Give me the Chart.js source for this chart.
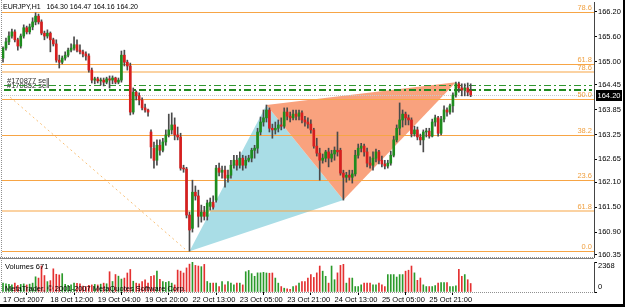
<!DOCTYPE html>
<html>
<head>
<meta charset="utf-8">
<script src="https://cdn.jsdelivr.net/npm/chart.js@4.4.0/dist/chart.umd.min.js"></script>
<style>
  html, body { margin: 0; padding: 0; background: #000; }
  #wrap { position: relative; width: 623px; height: 304px; background: #fff; overflow: hidden; }
  #main { position: absolute; left: 0; top: 0; }
  #vol { position: absolute; left: 0; top: 258px; }
</style>
</head>
<body>
<div id="wrap">
  <canvas id="main" width="623" height="258"></canvas>
  <canvas id="vol" width="623" height="46"></canvas>
</div>
<script>
// EURJPY H1 candles
const symbol = 'EURJPY,H1';
const opens = [165.09,165.33,165.48,165.62,165.72,165.53,165.38,165.62,165.82,165.72,
  165.84,165.96,166.10,165.96,165.69,165.62,165.69,165.53,165.43,165.04,
  164.99,165.09,165.16,165.28,165.33,165.41,165.28,165.24,165.19,165.14,
  164.80,164.56,164.59,164.54,164.56,164.51,164.59,164.56,164.61,164.51,
  164.56,165.16,164.99,164.90,163.79,164.27,164.18,164.08,163.89,163.84,
  163.31,162.92,162.63,162.99,162.87,163.07,163.24,163.36,163.48,163.24,
  163.19,162.44,162.42,161.31,160.99,161.86,161.77,161.28,161.38,161.28,
  161.52,161.62,161.67,162.44,162.34,162.39,162.20,162.27,162.51,162.63,
  162.51,162.68,162.51,162.63,162.68,162.87,162.92,163.31,163.55,163.65,
  163.84,163.40,163.36,163.40,163.48,163.45,163.79,163.69,163.65,163.74,
  163.69,163.77,163.60,163.55,163.50,163.36,162.97,162.80,162.63,162.68,
  162.83,162.68,162.78,162.87,162.87,162.32,162.22,162.27,162.22,162.30,
  162.75,162.92,162.97,162.83,162.56,162.51,162.68,162.83,162.63,162.54,
  162.49,162.56,162.75,163.12,163.40,163.60,163.74,163.65,163.60,163.26,
  163.36,163.19,163.12,163.31,163.33,163.21,163.55,163.65,163.28,163.62,
  163.84,163.79,163.94,164.20,164.47,164.37,164.32,164.37,164.30];
const highs = [165.36,165.57,165.72,165.79,165.77,165.57,165.67,165.89,165.86,165.91,
  166.06,166.18,166.15,166.01,165.74,165.77,165.72,165.57,165.53,165.16,
  165.14,165.24,165.33,165.43,165.60,165.53,165.41,165.28,165.24,165.19,
  164.85,164.63,164.63,164.61,164.61,164.63,164.66,164.66,164.63,164.61,
  165.26,165.28,165.04,164.97,164.37,164.30,164.25,164.13,163.98,163.86,
  163.36,163.07,163.12,163.12,163.16,163.36,163.74,163.77,163.65,163.43,
  163.28,162.51,162.46,161.38,162.15,162.01,161.91,161.55,161.52,161.67,
  161.72,161.77,162.51,162.56,162.49,162.49,162.39,162.63,162.75,162.75,
  162.83,162.75,162.73,162.75,162.92,162.99,163.40,163.67,163.84,163.96,
  163.89,163.50,163.55,163.60,163.65,163.89,163.89,163.79,163.84,163.84,
  163.84,163.82,163.69,163.65,163.60,163.40,163.16,162.92,162.78,162.87,
  162.92,162.87,162.95,163.31,162.92,162.39,162.34,162.39,162.39,162.87,
  163.02,163.04,163.02,162.92,162.71,162.83,162.90,162.87,162.73,162.63,
  162.63,162.85,163.21,163.48,164.01,163.84,163.79,163.72,163.65,163.45,
  163.43,163.26,163.36,163.40,163.40,163.62,163.72,163.69,163.69,163.94,
  163.89,163.98,164.25,164.51,164.51,164.47,164.47,164.49,164.47];
const lows = [164.99,165.28,165.41,165.57,165.48,165.28,165.33,165.57,165.67,165.67,
  165.77,165.89,165.91,165.65,165.53,165.57,165.24,165.38,164.99,164.85,
  164.95,165.04,165.12,165.24,165.28,165.24,165.19,165.12,165.04,164.75,
  164.49,164.47,164.49,164.44,164.42,164.47,164.37,164.47,164.47,164.47,
  164.51,164.90,164.80,163.72,163.74,164.08,163.96,163.84,163.79,163.69,
  162.68,162.44,162.51,162.75,162.83,162.99,163.19,163.26,163.12,163.12,
  162.39,162.34,161.24,160.44,160.90,161.67,161.02,161.14,161.19,161.19,
  161.43,161.45,161.62,162.25,162.20,161.98,162.10,162.20,162.44,162.39,
  162.44,162.39,162.44,162.59,162.59,162.68,162.80,163.24,163.45,163.55,
  163.31,163.16,163.26,163.31,163.36,163.40,163.60,163.55,163.60,163.60,
  163.60,163.53,163.45,163.40,163.28,162.92,162.73,162.15,162.56,162.59,
  162.47,162.59,162.63,162.73,162.27,161.67,162.10,162.15,162.08,162.25,
  162.68,162.83,162.73,162.47,162.44,162.39,162.59,162.54,162.47,162.42,
  162.44,162.51,162.71,163.07,163.24,163.43,163.48,163.48,163.19,163.21,
  163.12,163.00,162.83,163.19,163.16,163.19,163.45,163.21,163.24,163.55,
  163.69,163.74,163.79,164.15,164.27,164.18,164.18,164.18,164.16];
const closes = [165.33,165.48,165.62,165.72,165.53,165.38,165.62,165.82,165.72,165.84,
  165.96,166.10,165.96,165.69,165.62,165.69,165.53,165.43,165.04,164.99,
  165.09,165.16,165.28,165.33,165.41,165.28,165.24,165.19,165.14,164.80,
  164.56,164.59,164.54,164.56,164.51,164.59,164.56,164.61,164.51,164.56,
  165.16,164.99,164.90,163.79,164.27,164.18,164.08,163.89,163.84,163.79,
  162.95,162.63,162.99,162.87,163.07,163.24,163.36,163.48,163.24,163.19,
  162.44,162.42,161.31,160.95,161.86,161.77,161.28,161.38,161.28,161.60,
  161.62,161.50,162.44,162.34,162.39,162.20,162.27,162.51,162.63,162.51,
  162.68,162.51,162.63,162.68,162.87,162.92,163.31,163.55,163.65,163.84,
  163.40,163.36,163.40,163.48,163.45,163.79,163.69,163.65,163.74,163.69,
  163.77,163.60,163.55,163.50,163.36,162.97,162.80,162.63,162.68,162.83,
  162.68,162.78,162.87,162.83,162.32,162.22,162.27,162.22,162.30,162.75,
  162.92,162.97,162.83,162.56,162.51,162.68,162.83,162.63,162.54,162.49,
  162.56,162.75,163.12,163.40,163.60,163.74,163.65,163.60,163.26,163.36,
  163.19,163.12,163.31,163.33,163.21,163.55,163.65,163.28,163.62,163.84,
  163.79,163.94,164.20,164.47,164.37,164.32,164.37,164.27,164.20];
const volumes = [700,650,600,560,700,520,600,640,560,620,
  700,1200,1100,2050,1300,820,900,1830,1400,1350,
  1450,600,520,560,700,680,650,460,430,520,
  560,600,560,620,700,650,1600,830,1380,1250,
  1020,1100,1500,1780,850,700,650,830,970,700,
  1240,1300,1650,1000,830,760,830,700,560,1730,
  1650,1500,1900,2200,2370,2100,2050,2000,2180,830,
  700,700,700,430,820,560,830,700,560,700,
  700,560,1600,1700,1450,1240,1510,1510,1550,1500,
  1480,1500,1100,700,430,300,250,214,430,480,
  700,830,830,1100,1380,1150,1510,2050,1645,1240,
  700,2050,970,1510,2100,2185,700,1100,1100,430,
  430,565,700,700,700,565,565,700,565,430,
  1375,1375,1375,1180,1375,1375,1645,1720,2050,1510,
  920,1105,565,430,430,430,510,700,750,750,
  750,430,430,480,1780,1240,1375,970,671];

const priceTicks = [166.20,165.60,165.00,164.45,163.85,163.25,162.65,162.10,161.50,160.90,160.35];
const volTicks = [0, 2368];
const timeTicks = [0,16,32,48,64,80,96,112,128,144];
const timeLabels = ['17 Oct 2007','18 Oct 12:00','19 Oct 04:00','19 Oct 20:00','22 Oct 13:00',
  '23 Oct 05:00','23 Oct 21:00','24 Oct 13:00','25 Oct 05:00','25 Oct 21:00'];

// drawn objects
const fibLevels = [166.19,164.95,164.75,164.10,163.24,162.15,161.41,160.44];
const fibLabels = ['78.6','61.8','78.6','50.0','38.2','23.6','61.8','0.0'];
const fibFaded = [false,false,true,false,false,false,true,false];
const orderLevels = [164.44, 164.32];
const orderLabels = ['#170877 sell', '#170852 sell'];
const bidPrice = 164.20;
const triBlue = [[63,160.44],[89,163.96],[115,161.67]];
const triOrange = [[89,163.96],[115,161.67],[153,164.51]];
const trendLine = [[2.4,164.15],[61.5,160.49]];

const FONT = 'Liberation Sans';
const xMin = -0.34, xMax = 199.66;
const bars = opens.map((_, i) => i);
const last = bars.length - 1;
const upColor = '#1e8c1e', downColor = '#d81e1e';
const bodyColors = bars.map(i => closes[i] >= opens[i] ? upColor : downColor);
const volColors = bars.map(i => closes[i] >= opens[i] ? '#2a9a2a' : '#e43030');

function hline(ctx, area, y, color, width, dash) {
  ctx.save();
  ctx.strokeStyle = color;
  ctx.lineWidth = width;
  ctx.setLineDash(dash || []);
  const yy = width % 2 ? Math.round(y) + 0.5 : Math.round(y);
  ctx.beginPath();
  ctx.moveTo(area.left, yy);
  ctx.lineTo(area.right, yy);
  ctx.stroke();
  ctx.restore();
}

const mainOverlay = {
  id: 'mainOverlay',
  beforeDatasetsDraw(chart) {
    const {ctx, chartArea: a, scales: {x, y}} = chart;
    ctx.save();
    ctx.beginPath();
    ctx.rect(a.left, a.top, a.right - a.left, a.bottom - a.top);
    ctx.clip();
    // triangles
    [[triBlue, '#a9dde6'], [triOrange, '#f9a27e']].forEach(([pts, col]) => {
      ctx.fillStyle = col;
      ctx.beginPath();
      pts.forEach(([i, p], k) => {
        const px = x.getPixelForValue(i), py = y.getPixelForValue(p);
        k ? ctx.lineTo(px, py) : ctx.moveTo(px, py);
      });
      ctx.closePath();
      ctx.fill();
    });
    // dotted trend line
    ctx.strokeStyle = '#f8c078';
    ctx.lineWidth = 1;
    ctx.setLineDash([2, 3]);
    ctx.beginPath();
    ctx.moveTo(x.getPixelForValue(trendLine[0][0]), y.getPixelForValue(trendLine[0][1]));
    ctx.lineTo(x.getPixelForValue(trendLine[1][0]), y.getPixelForValue(trendLine[1][1]));
    ctx.stroke();
    ctx.setLineDash([]);
    ctx.restore();

    // fibonacci levels
    fibLevels.forEach((p, k) => {
      const py = y.getPixelForValue(p);
      if (fibFaded[k]) hline(ctx, a, py, 'rgba(247,165,69,0.5)', 2);
      else hline(ctx, a, py, '#f7a545', 1);
    });
    // bid line
    hline(ctx, a, y.getPixelForValue(bidPrice), '#c8c8c8', 1, [1, 1]);
    // order labels + lines
    ctx.save();
    ctx.font = '7.5px ' + FONT;
    ctx.fillStyle = '#303030';
    ctx.textBaseline = 'bottom';
    orderLabels.forEach((t, k) => ctx.fillText(t, 7, y.getPixelForValue(orderLevels[k])));
    ctx.restore();
    const oa = {left: a.left + 2, right: a.right - 2};
    hline(ctx, oa, y.getPixelForValue(orderLevels[0]), '#2f962f', 1, [7, 3, 2, 3]);
    hline(ctx, oa, y.getPixelForValue(orderLevels[1]), '#1f8a1f', 2, [7, 3, 2, 3]);
  },
  afterDraw(chart) {
    const {ctx, chartArea: a, scales: {y}} = chart;
    ctx.save();
    // frame
    ctx.strokeStyle = '#909090';
    ctx.lineWidth = 1;
    ctx.setLineDash([1, 1]);
    ctx.beginPath();
    ctx.moveTo(1.5, 0); ctx.lineTo(1.5, a.bottom);
    ctx.moveTo(0, a.bottom + 0.5); ctx.lineTo(a.right, a.bottom + 0.5);
    ctx.stroke();
    ctx.setLineDash([]);

    // header: symbol + last bar OHLC
    ctx.font = '7px ' + FONT;
    ctx.textBaseline = 'middle';
    ctx.fillStyle = '#000';
    const ohlc = [opens[last], highs[last], lows[last], closes[last]].map(v => v.toFixed(2)).join(' ');
    ctx.fillText(symbol + '   ' + ohlc, 3, 7);
    // fib labels
    ctx.font = '7.5px ' + FONT;
    ctx.fillStyle = '#f0a040';
    ctx.textAlign = 'right';
    ctx.textBaseline = 'bottom';
    fibLevels.forEach((p, k) => ctx.fillText(fibLabels[k], a.right - 2, y.getPixelForValue(p) - 0.5));
    // current price box
    const by = y.getPixelForValue(bidPrice);
    ctx.fillStyle = '#000';
    ctx.fillRect(a.right + 2, Math.round(by) - 5, 26, 11);
    ctx.fillStyle = '#fff';
    ctx.textAlign = 'center';
    ctx.textBaseline = 'middle';
    ctx.fillText(closes[last].toFixed(2), a.right + 15, Math.round(by) + 0.5);
    ctx.restore();
  }
};

const volOverlay = {
  id: 'volOverlay',
  afterDraw(chart) {
    const {ctx, chartArea: a, scales: {y}} = chart;
    ctx.save();
    ctx.strokeStyle = '#808080';
    ctx.lineWidth = 1;
    ctx.beginPath();
    ctx.moveTo(0, 0.5); ctx.lineTo(a.right, 0.5);
    ctx.stroke();
    ctx.strokeStyle = '#909090';
    ctx.setLineDash([1, 1]);
    ctx.beginPath();
    ctx.moveTo(1.5, 0); ctx.lineTo(1.5, a.bottom);
    ctx.moveTo(0, a.bottom + 0.5); ctx.lineTo(a.right, a.bottom + 0.5);
    ctx.stroke();
    ctx.setLineDash([]);
    ctx.font = '7.5px ' + FONT;
    ctx.fillStyle = '#000';
    ctx.textBaseline = 'middle';
    ctx.fillText('Volumes ' + volumes[last], 5, 9);
    ctx.fillText('MetaTrader, \u00a9 2001-2007 MetaQuotes Software Corp.', 5, 31);
    ctx.fillText(String(volTicks[1]), a.right + 4, y.getPixelForValue(volTicks[1]) + 4);
    ctx.fillText(String(volTicks[0]), a.right + 4, y.getPixelForValue(volTicks[0]) - 5);
    ctx.restore();
  }
};

const mainChart = new Chart(document.getElementById('main'), {
  type: 'bar',
  data: {
    datasets: [
      { data: bars.map(i => ({x: i, y: [opens[i], closes[i]]})), backgroundColor: bodyColors,
        barThickness: 2, minBarLength: 1, grouped: false },
      { data: bars.map(i => ({x: i, y: [lows[i], highs[i]]})), backgroundColor: '#4a4a4a',
        barThickness: 1, grouped: false }
    ]
  },
  options: {
    animation: false, responsive: false, events: [],
    layout: { padding: { top: 2, left: 2, right: 0, bottom: 1 } },
    plugins: { legend: { display: false }, tooltip: { enabled: false } },
    scales: {
      x: { type: 'linear', min: xMin, max: xMax, offset: false, display: false },
      y: {
        position: 'right', min: 160.30, max: 166.44,
        afterBuildTicks(s) { s.ticks = priceTicks.map(v => ({value: v})); },
        afterFit(s) { s.width = 29; s.paddingTop = 0; s.paddingBottom = 0; },
        ticks: { font: { family: FONT, size: 7.5 }, color: '#000', padding: 1,
          callback: v => Number(v).toFixed(2) },
        grid: { drawOnChartArea: false, tickLength: 3, color: '#000' },
        border: { color: '#444' }
      }
    }
  },
  plugins: [mainOverlay]
});

const volChart = new Chart(document.getElementById('vol'), {
  type: 'bar',
  data: {
    datasets: [
      { data: bars.map(i => ({x: i, y: volumes[i]})), backgroundColor: volColors,
        barThickness: 1, grouped: false }
    ]
  },
  options: {
    animation: false, responsive: false, events: [],
    layout: { padding: { top: 4, left: 2, right: 0, bottom: 0 } },
    plugins: { legend: { display: false }, tooltip: { enabled: false } },
    scales: {
      x: {
        type: 'linear', min: xMin, max: xMax, offset: false,
        afterBuildTicks(s) { s.ticks = timeTicks.map(v => ({value: v})); },
        afterFit(s) { s.height = 12; s.paddingLeft = 0; s.paddingRight = 0; },
        ticks: { autoSkip: false, maxRotation: 0, minRotation: 0, align: 'start', padding: 0,
          font: { family: FONT, size: 7.5 }, color: '#000',
          callback: (v, idx) => timeLabels[idx] },
        grid: { drawOnChartArea: false, tickLength: 3, color: '#000' },
        border: { display: false }
      },
      y: {
        position: 'right', min: 0, max: volTicks[1],
        afterBuildTicks(s) { s.ticks = volTicks.map(v => ({value: v})); },
        afterFit(s) { s.width = 29; s.paddingTop = 0; s.paddingBottom = 0; },
        ticks: { display: false },
        grid: { drawOnChartArea: false, tickLength: 3, color: '#000' },
        border: { color: '#444' }
      }
    }
  },
  plugins: [volOverlay]
});
</script>
</body>
</html>
